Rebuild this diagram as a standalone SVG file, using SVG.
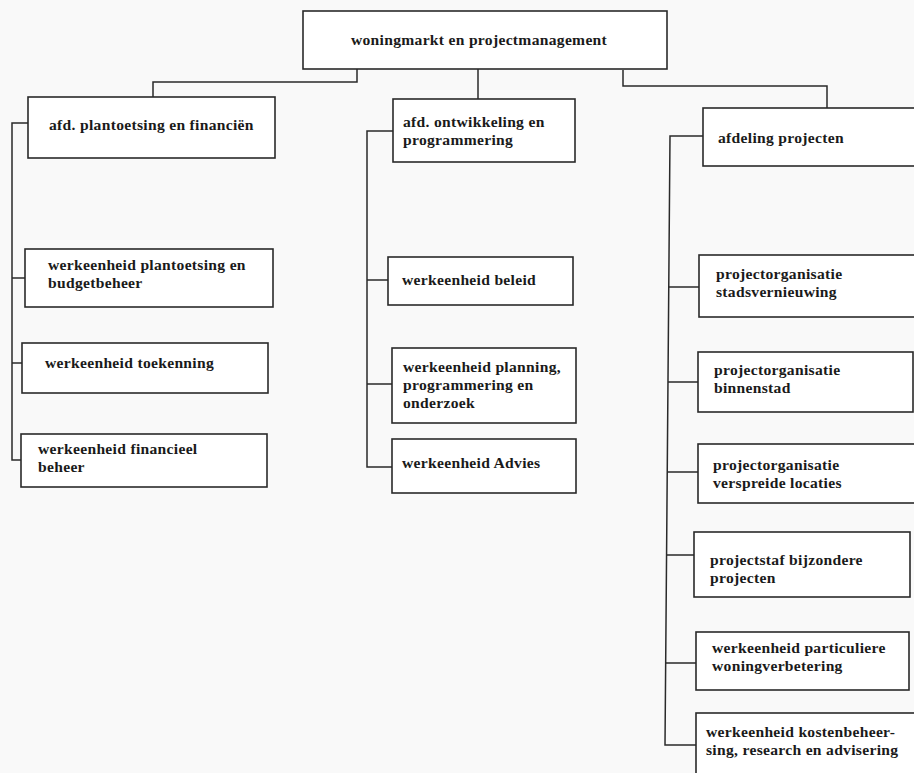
<svg xmlns="http://www.w3.org/2000/svg" width="914" height="773" viewBox="0 0 914 773">
<style>
.box{fill:#ffffff;stroke:#2a2a2a;stroke-width:1.6}
.ln{fill:none;stroke:#2a2a2a;stroke-width:1.5}
text{font-family:"Liberation Serif","Times New Roman",serif;font-size:15.6px;letter-spacing:0.3px;font-weight:bold;fill:#1a1a1a}
</style>
<rect x="0" y="0" width="914" height="773" fill="#f9f9f9"/>
<g id="connectors">
<path class="ln" d="M357 68 V82 H153 V97"/>
<path class="ln" d="M478 69 V99"/>
<path class="ln" d="M623 70 V86 H827 V108"/>
<path class="ln" d="M28 123 H12 V460 H22 M12 278 H25 M12 363 H23"/>
<path class="ln" d="M393 131 H367 V467 H392 M367 280 H388 M367 384 H392"/>
<path class="ln" d="M703 136 H670 L665 745 H696 M669 287 H699 M668 382 H698 M667 472 H698 M667 555 H694 M666 663 H696"/>
</g>
<g id="n-top"><rect class="box" x="303" y="11" width="364" height="58"/><text x="479" y="45" text-anchor="middle">woningmarkt en projectmanagement</text></g>
<g id="n-afd-plan"><rect class="box" x="28" y="97" width="247" height="61"/><text x="49" y="130">afd. plantoetsing en financiën</text></g>
<g id="n-wh-plan"><rect class="box" x="25" y="249" width="248" height="58"/><text x="48" y="270">werkeenheid plantoetsing en</text><text x="48" y="288">budgetbeheer</text></g>
<g id="n-wh-toek"><rect class="box" x="22" y="343" width="246" height="50"/><text x="45" y="368">werkeenheid toekenning</text></g>
<g id="n-wh-fin"><rect class="box" x="21" y="434" width="246" height="53"/><text x="38" y="454">werkeenheid financieel</text><text x="38" y="472">beheer</text></g>
<g id="n-afd-ontw"><rect class="box" x="393" y="99" width="182" height="63"/><text x="403" y="127">afd. ontwikkeling en</text><text x="403" y="145">programmering</text></g>
<g id="n-wh-bel"><rect class="box" x="388" y="257" width="185" height="48"/><text x="402" y="285">werkeenheid beleid</text></g>
<g id="n-wh-planning"><rect class="box" x="392" y="348" width="184" height="75"/><text x="403" y="372">werkeenheid planning,</text><text x="403" y="390">programmering en</text><text x="403" y="408">onderzoek</text></g>
<g id="n-wh-adv"><rect class="box" x="392" y="439" width="184" height="54"/><text x="402" y="468">werkeenheid Advies</text></g>
<g id="n-afd-proj"><rect class="box" x="703" y="108" width="220" height="58"/><text x="718" y="143">afdeling projecten</text></g>
<g id="n-po-stad"><rect class="box" x="699" y="255" width="224" height="62"/><text x="716" y="279">projectorganisatie</text><text x="716" y="297">stadsvernieuwing</text></g>
<g id="n-po-binnen"><rect class="box" x="698" y="352" width="215" height="60"/><text x="714" y="375">projectorganisatie</text><text x="714" y="393">binnenstad</text></g>
<g id="n-po-versp"><rect class="box" x="698" y="444" width="225" height="59"/><text x="713" y="470">projectorganisatie</text><text x="713" y="488">verspreide locaties</text></g>
<g id="n-ps-bijz"><rect class="box" x="694" y="532" width="216" height="65"/><text x="710" y="565">projectstaf bijzondere</text><text x="710" y="583">projecten</text></g>
<g id="n-wh-part"><rect class="box" x="696" y="632" width="213" height="58"/><text x="712" y="653">werkeenheid particuliere</text><text x="712" y="671">woningverbetering</text></g>
<g id="n-wh-kost"><rect class="box" x="696" y="713" width="227" height="70"/><text x="706" y="737">werkeenheid kostenbeheer-</text><text x="706" y="755">sing, research en advisering</text></g>
</svg>
